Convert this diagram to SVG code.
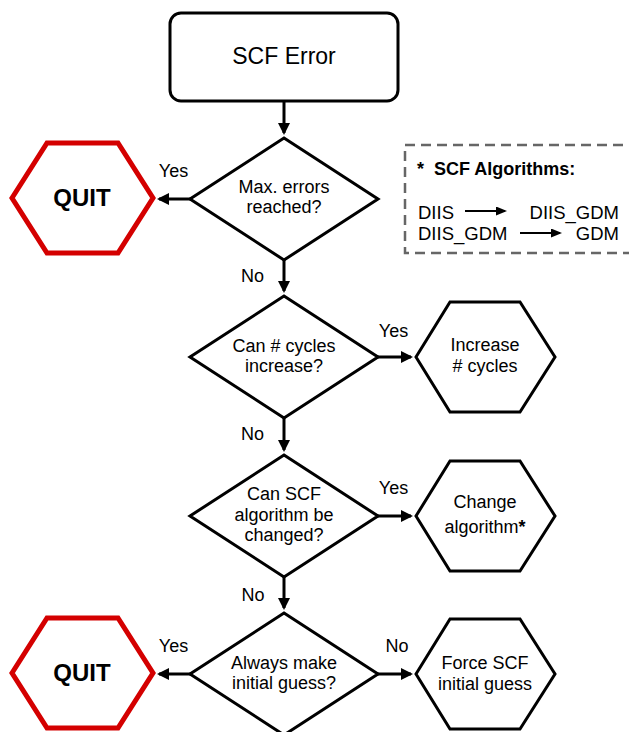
<svg xmlns="http://www.w3.org/2000/svg" width="629" height="732" viewBox="0 0 629 732">
<style>
text{font-family:"Liberation Sans",Arial,sans-serif;fill:#000}
.t{font-size:18px;text-anchor:middle}
.lbl{font-size:18px;text-anchor:middle}
.q{font-size:24px;font-weight:bold;text-anchor:middle}
.shape{fill:#fff;stroke:#000;stroke-width:3;stroke-linejoin:miter}
.quit{fill:#fff;stroke:#d40000;stroke-width:5;stroke-linejoin:miter}
.conn{stroke:#000;stroke-width:3;fill:none}
.thin{stroke:#000;stroke-width:2;fill:none}
.leg{font-size:18.5px}
</style>
<defs>
<marker id="ah" markerUnits="userSpaceOnUse" markerWidth="14" markerHeight="14" refX="10" refY="6" orient="auto">
<path d="M0,0 L12,6 L0,12 z" fill="#000"/>
</marker>
<marker id="ahs" markerUnits="userSpaceOnUse" markerWidth="12" markerHeight="12" refX="9" refY="4.5" orient="auto">
<path d="M0,0 L11,4.5 L0,9 z" fill="#000"/>
</marker>
</defs>

<g id="connectors">
<line class="conn" x1="284" y1="102" x2="284" y2="133" marker-end="url(#ah)"/>
<line class="conn" x1="190" y1="199" x2="159" y2="199" marker-end="url(#ah)"/>
<line class="conn" x1="284" y1="260" x2="284" y2="291" marker-end="url(#ah)"/>
<line class="conn" x1="378" y1="357" x2="411" y2="357" marker-end="url(#ah)"/>
<line class="conn" x1="284" y1="418" x2="284" y2="450" marker-end="url(#ah)"/>
<line class="conn" x1="378" y1="516" x2="411" y2="516" marker-end="url(#ah)"/>
<line class="conn" x1="284" y1="577" x2="284" y2="608" marker-end="url(#ah)"/>
<line class="conn" x1="190" y1="674" x2="159" y2="674" marker-end="url(#ah)"/>
<line class="conn" x1="378" y1="674" x2="411" y2="674" marker-end="url(#ah)"/>
<text class="lbl" x="173.5" y="177">Yes</text>
<text class="lbl" x="252.5" y="282">No</text>
<text class="lbl" x="393.5" y="337">Yes</text>
<text class="lbl" x="252.5" y="440">No</text>
<text class="lbl" x="393.5" y="494">Yes</text>
<text class="lbl" x="253" y="601">No</text>
<text class="lbl" x="173.5" y="652">Yes</text>
<text class="lbl" x="397" y="652">No</text>
</g>

<g id="scf-error">
<rect class="shape" x="170" y="13" width="228" height="88" rx="11" ry="11"/>
<text x="284" y="64" style="font-size:23px;text-anchor:middle">SCF Error</text>
</g>

<g id="max-errors">
<polygon class="shape" points="284,138 378,199 284,260 190,199"/>
<text class="t" x="284" y="193">Max. errors</text>
<text class="t" x="284" y="213">reached?</text>
</g>

<g id="quit1">
<polygon class="quit" points="12,198 47,143 118,143 153,198 118,253 47,253"/>
<text class="q" x="82" y="206">QUIT</text>
</g>

<g id="legend">
<rect x="405" y="145" width="228" height="108" fill="none" stroke="#666" stroke-width="2.5" stroke-dasharray="10,6"/>
<text x="417" y="175" style="font-size:18px;font-weight:bold">*<tspan x="434">SCF Algorithms:</tspan></text>
<text class="leg" x="418" y="219">DIIS</text>
<text class="leg" x="619" y="219" text-anchor="end">DIIS_GDM</text>
<line class="thin" x1="465" y1="211" x2="505" y2="211" marker-end="url(#ahs)"/>
<text class="leg" x="418" y="240">DIIS_GDM</text>
<text class="leg" x="619" y="240" text-anchor="end">GDM</text>
<line class="thin" x1="520" y1="233" x2="560" y2="233" marker-end="url(#ahs)"/>
</g>

<g id="cycles-q">
<polygon class="shape" points="284,296 378,357 284,418 190,357"/>
<text class="t" x="284" y="352">Can # cycles</text>
<text class="t" x="284" y="372">increase?</text>
</g>

<g id="increase-cycles">
<polygon class="shape" points="416,357 450,302 520,302 555,357 520,412 450,412"/>
<text class="t" x="485" y="351">Increase</text>
<text class="t" x="485" y="372"># cycles</text>
</g>

<g id="algorithm-q">
<polygon class="shape" points="284,455 378,516 284,577 190,516"/>
<text class="t" x="284" y="500">Can SCF</text>
<text class="t" x="284" y="521">algorithm be</text>
<text class="t" x="284" y="541">changed?</text>
</g>

<g id="change-algorithm">
<polygon class="shape" points="416,516 450,461 520,461 555,516 520,571 450,571"/>
<text class="t" x="485" y="508">Change</text>
<text class="t" x="485" y="533">algorithm<tspan font-weight="bold">*</tspan></text>
</g>

<g id="guess-q">
<polygon class="shape" points="284,613 378,674 284,735 190,674"/>
<text class="t" x="284" y="669">Always make</text>
<text class="t" x="284" y="689">initial guess?</text>
</g>

<g id="quit2">
<polygon class="quit" points="12,673 47,618 118,618 153,673 118,728 47,728"/>
<text class="q" x="82" y="681">QUIT</text>
</g>

<g id="force-guess">
<polygon class="shape" points="416,674 450,619 520,619 555,674 520,729 450,729"/>
<text class="t" x="485" y="669">Force SCF</text>
<text class="t" x="485" y="690">initial guess</text>
</g>
</svg>
